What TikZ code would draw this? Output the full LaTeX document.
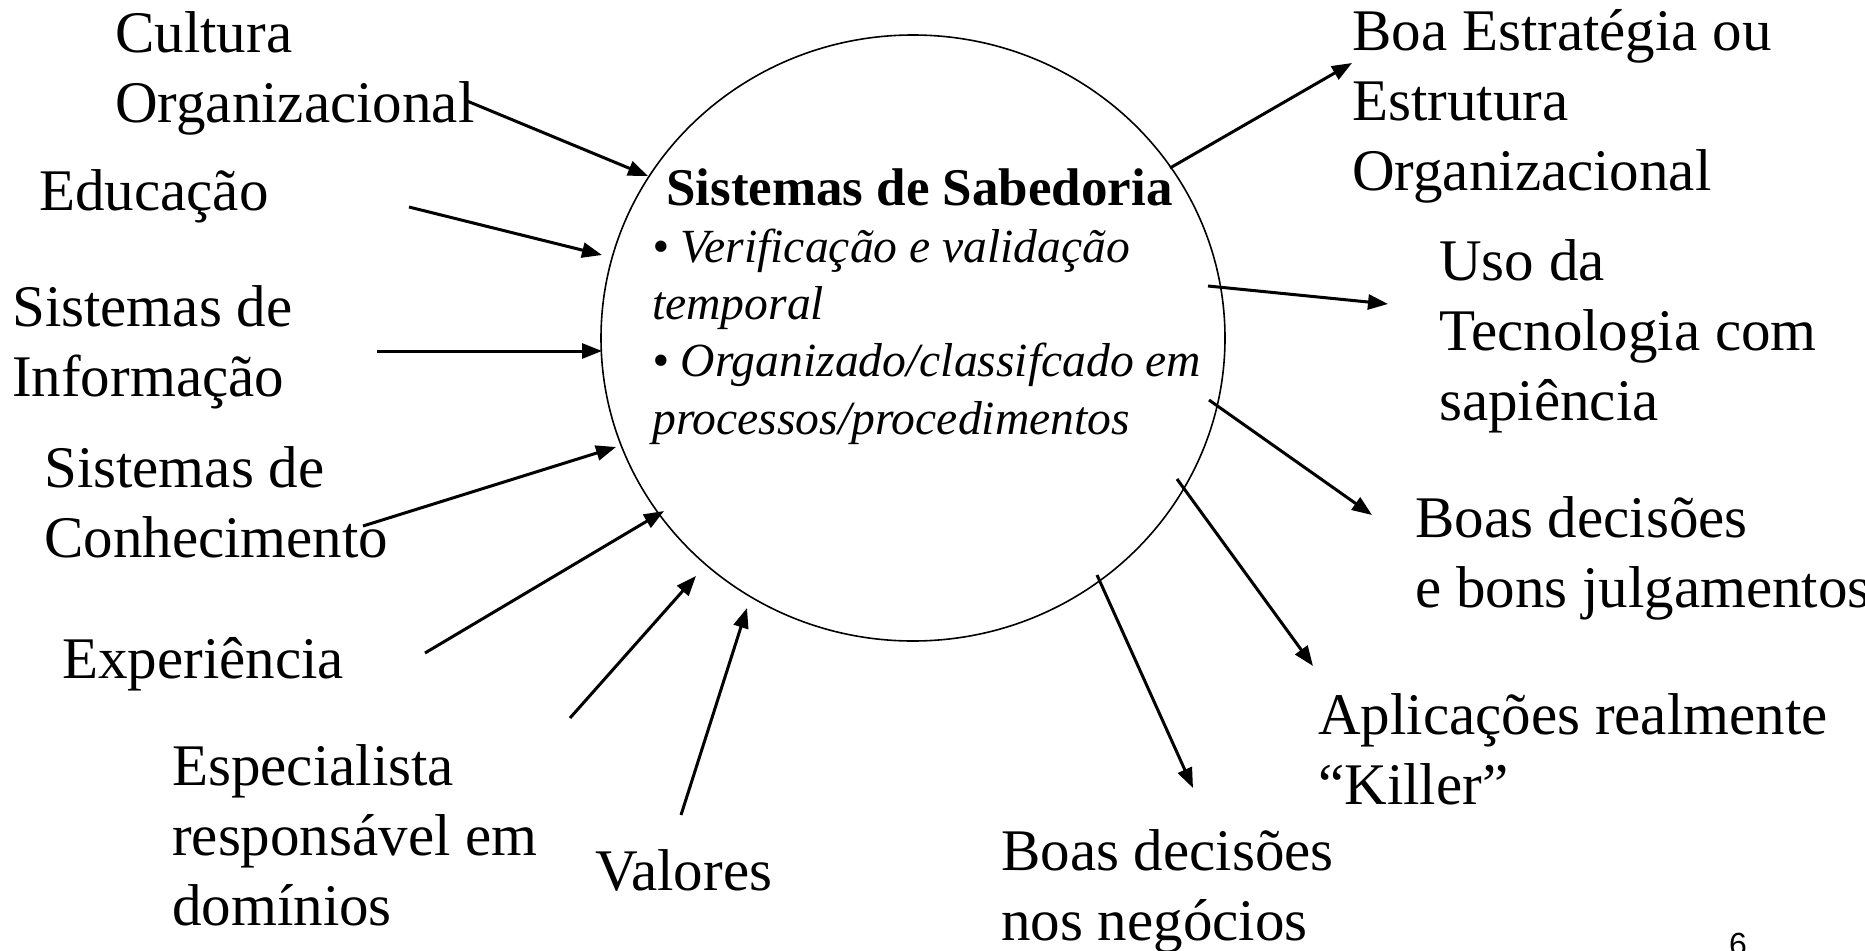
\documentclass[tikz,border=0pt]{standalone}
\usepackage{fontspec}
\setmainfont{Liberation Serif}
\newfontfamily\pagefont{Liberation Sans}
\usetikzlibrary{arrows.meta,shapes.geometric}
\begin{document}
\begin{tikzpicture}[x=1pt,y=-1pt,
  lbl/.style={anchor=base west,inner sep=0pt,align=left,font=\fontsize{59}{70}\selectfont},
  ttl/.style={anchor=base west,inner sep=0pt,font=\fontsize{53}{60}\selectfont\bfseries},
  bul/.style={anchor=base west,inner sep=0pt,align=left,font=\fontsize{47.6}{57.3}\selectfont\itshape},
  arr/.style={line width=3pt,-{Triangle[length=20pt,width=15pt]}},
  circ/.style={draw,ellipse,line width=1.6pt,inner sep=0pt}]
\useasboundingbox (0,0) rectangle (1865,950);
\fill[white] (0,0) rectangle (1865,950);
% central ellipse (multi-line nodes are placed by the baseline of their last line)
\node[circ,minimum width=624pt,minimum height=606pt] (sab) at (913,338) {};
\node[ttl] (title) at (666,205) {Sistemas de Sabedoria};
\node[bul] (bullets) at (652,434) {• Verificação e validação\\temporal\\• Organizado/classifcado em\\processos/procedimentos};
% inputs
\node[lbl] (cultura) at (115,122) {Cultura\\Organizacional};
\node[lbl] (educ) at (39,210) {Educação};
\node[lbl] (sinf) at (12,396) {Sistemas de\\Informação};
\node[lbl] (scon) at (44,557) {Sistemas de\\Conhecimento};
\node[lbl] (exper) at (62,678) {Experiência};
\node[lbl] (espec) at (172,925) {Especialista\\responsável em\\domínios};
\node[lbl] (valores) at (595,890) {Valores};
% outputs
\node[lbl] (estrat) at (1352,190) {Boa Estratégia ou\\Estrutura\\Organizacional};
\node[lbl] (uso) at (1439,420) {Uso da\\Tecnologia com\\sapiência};
\node[lbl] (julg) at (1415,607) {Boas decisões\\e bons julgamentos};
\node[lbl] (killer) at (1318,804) {Aplicações realmente\\“Killer”};
\node[lbl] (negoc) at (1001,940) {Boas decisões\\nos negócios};
\node[anchor=base west,inner sep=0pt,font=\pagefont\fontsize{32}{38}\selectfont] (pg) at (1729,955) {6};
% arrow end points
\coordinate (cu-t) at (467,101);  \coordinate (cu-h) at (648,176);
\coordinate (ed-t) at (409,207);  \coordinate (ed-h) at (602,255);
\coordinate (si-t) at (377,351);  \coordinate (si-h) at (602,351);
\coordinate (sc-t) at (363,526);  \coordinate (sc-h) at (616,447);
\coordinate (ex-t) at (425,653);  \coordinate (ex-h) at (664,511);
\coordinate (es-t) at (570,718);  \coordinate (es-h) at (696,576);
\coordinate (va-t) at (681,815);  \coordinate (va-h) at (747,608);
\coordinate (bo-t) at (1170,168); \coordinate (bo-h) at (1352,63);
\coordinate (us-t) at (1208,286); \coordinate (us-h) at (1388,304);
\coordinate (ju-t) at (1209,400); \coordinate (ju-h) at (1372,515);
\coordinate (ap-t) at (1177,479); \coordinate (ap-h) at (1313,666);
\coordinate (ne-t) at (1097,575); \coordinate (ne-h) at (1193,788);
\draw[arr] (cu-t) -- (cu-h);
\draw[arr] (ed-t) -- (ed-h);
\draw[arr] (si-t) -- (si-h);
\draw[arr] (sc-t) -- (sc-h);
\draw[arr] (ex-t) -- (ex-h);
\draw[arr] (es-t) -- (es-h);
\draw[arr] (va-t) -- (va-h);
\draw[arr] (bo-t) -- (bo-h);
\draw[arr] (us-t) -- (us-h);
\draw[arr] (ju-t) -- (ju-h);
\draw[arr] (ap-t) -- (ap-h);
\draw[arr] (ne-t) -- (ne-h);
\end{tikzpicture}
\end{document}
